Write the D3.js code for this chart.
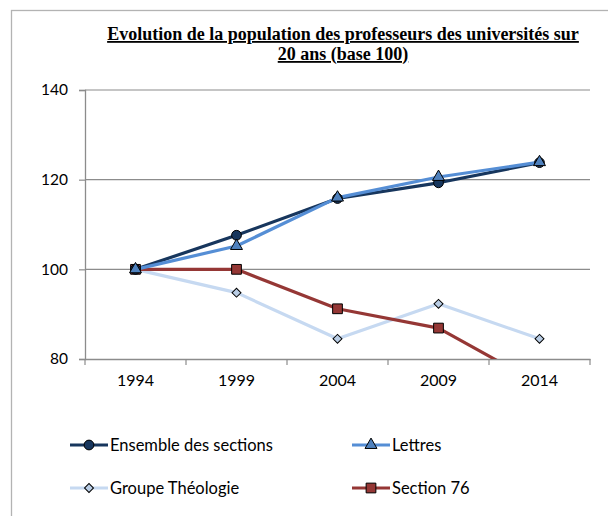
<!DOCTYPE html>
<html>
<head>
<meta charset="utf-8">
<script src="https://cdn.jsdelivr.net/npm/d3@7"></script>
<style>
  body { margin: 0; background: #fff; }
  svg { display: block; }
</style>
</head>
<body>
<div id="chart"></div>
<script>
const years = ["1994", "1999", "2004", "2009", "2014"];
const ensemble = [100, 107.6, 115.8, 119.3, 123.8];
const lettres = [100, 105.2, 116.0, 120.6, 123.9];
const theologie = [100, 94.8, 84.5, 92.3, 84.5];
const section76 = [100, 100, 91.2, 86.9, 74.4];
const yTicks = [80, 100, 120, 140];
const titleLines = ["Evolution de la population des professeurs des universités sur", "20 ans (base 100)"];

const series = [
  {name: "Ensemble des sections", values: ensemble, color: "#17365d", fill: "#17365d", marker: "circle"},
  {name: "Lettres", values: lettres, color: "#558ed5", fill: "#4f81bd", marker: "triangle"},
  {name: "Groupe Théologie", values: theologie, color: "#c6d9f1", fill: "#b9cde5", marker: "diamond"},
  {name: "Section 76", values: section76, color: "#953735", fill: "#953735", marker: "square"}
];

const W = 608, H = 516;
const margin = {top: 90, right: 18, bottom: 157, left: 85};
const width = 590 - margin.left;
const height = 359 - margin.top;
const labelFont = "Lato, 'Open Sans', sans-serif";

const svg = d3.select("#chart").append("svg")
    .attr("width", W)
    .attr("height", H);

// outer frame (cropped on right and bottom)
svg.append("rect")
    .attr("x", 11.5).attr("y", 10.5)
    .attr("width", 640).attr("height", 560)
    .attr("fill", "none")
    .attr("stroke", "#b3b3b3")
    .attr("stroke-width", 1.3);

// title
const title = svg.append("text")
    .attr("text-anchor", "middle")
    .attr("font-family", "'Liberation Serif', 'Times New Roman', serif")
    .attr("font-weight", "bold")
    .attr("font-size", "18px")
    .attr("text-decoration", "underline")
    .attr("fill", "#000");
titleLines.forEach((t, i) => {
    title.append("tspan").attr("x", 343).attr("y", 40 + i * 20).text(t);
});

const g = svg.append("g")
    .attr("transform", `translate(${margin.left},${margin.top})`);

const x = d3.scaleBand().domain(years).range([0, width]).padding(0);
const y = d3.scaleLinear().domain([80, 140]).range([height, 0]);
const cx = d => x(d) + x.bandwidth() / 2;

// gridlines
g.append("g")
    .selectAll("line")
    .data(yTicks.filter(v => v > 80))
    .join("line")
    .attr("x1", 0).attr("x2", width)
    .attr("y1", d => y(d)).attr("y2", d => y(d))
    .attr("stroke", "#8c8c8c")
    .attr("stroke-width", 1.2);

// y axis
const yAxis = g.append("g")
    .call(d3.axisLeft(y).tickValues(yTicks).tickSize(6).tickPadding(11));
yAxis.select(".domain").attr("stroke", "#8c8c8c").attr("stroke-width", 1.3);
yAxis.selectAll(".tick line").attr("stroke", "#8c8c8c").attr("stroke-width", 1.2);
yAxis.selectAll("text")
    .attr("font-family", labelFont)
    .attr("font-size", "15.5px")
    .attr("fill", "#000");

// x axis
const xAxis = g.append("g")
    .attr("transform", `translate(0,${height})`)
    .call(d3.axisBottom(x).tickSize(0).tickPadding(16));
xAxis.select(".domain").attr("stroke", "#8c8c8c").attr("stroke-width", 1.3);
xAxis.selectAll("text")
    .attr("font-family", labelFont)
    .attr("font-size", "16px")
    .attr("fill", "#000");
xAxis.selectAll(".edge")
    .data(years.map(d => x(d)).concat([width]))
    .join("line")
    .attr("class", "edge")
    .attr("x1", d => d).attr("x2", d => d)
    .attr("y1", 0).attr("y2", 6)
    .attr("stroke", "#8c8c8c")
    .attr("stroke-width", 1.2);

// clip to the plot area
svg.append("defs").append("clipPath").attr("id", "plotclip")
    .append("rect").attr("x", 0).attr("y", -10).attr("width", width).attr("height", height + 10);

// diamond = square turned 45deg (excel style), not d3's tall diamond
const symbols = {
    circle: d3.symbolCircle,
    triangle: d3.symbolTriangle,
    diamond: d3.symbolSquare,
    square: d3.symbolSquare
};
const sizes = {circle: 75, triangle: 62, diamond: 40, square: 95};
const rot = m => m === "diamond" ? " rotate(45)" : "";

const line = d3.line()
    .x((d, i) => cx(years[i]))
    .y(d => y(d));

const plot = g.append("g").attr("clip-path", "url(#plotclip)");

// lines first, then markers on top
const drawOrder = [series[2], series[3], series[0], series[1]];
drawOrder.forEach(s => {
    plot.append("path")
        .datum(s.values)
        .attr("fill", "none")
        .attr("stroke", s.color)
        .attr("stroke-width", 3.2)
        .attr("stroke-linejoin", "round")
        .attr("d", line);
});
drawOrder.forEach(s => {
    plot.selectAll(null)
        .data(s.values.filter(v => v >= 80))
        .join("path")
        .attr("transform", (d, i) => `translate(${cx(years[i])},${y(d)})` + rot(s.marker))
        .attr("d", d3.symbol().type(symbols[s.marker]).size(sizes[s.marker]))
        .attr("fill", s.fill)
        .attr("stroke", "#000")
        .attr("stroke-width", 1);
});

// legend
const legendPos = [
    {x: 70, y: 445}, {x: 352, y: 445},
    {x: 70, y: 488}, {x: 352, y: 488}
];
series.forEach((s, i) => {
    const p = legendPos[i];
    const lg = svg.append("g").attr("transform", `translate(${p.x},${p.y})`);
    lg.append("line")
        .attr("x1", 0).attr("x2", 38)
        .attr("stroke", s.color)
        .attr("stroke-width", 3.2);
    lg.append("path")
        .attr("transform", "translate(19,0)" + rot(s.marker))
        .attr("d", d3.symbol().type(symbols[s.marker]).size(sizes[s.marker]))
        .attr("fill", s.fill)
        .attr("stroke", "#000")
        .attr("stroke-width", 1);
    lg.append("text")
        .attr("x", 40)
        .attr("dy", "0.35em")
        .attr("font-family", labelFont)
        .attr("font-size", "16.5px")
        .attr("fill", "#000")
        .text(s.name);
});
</script>
</body>
</html>
